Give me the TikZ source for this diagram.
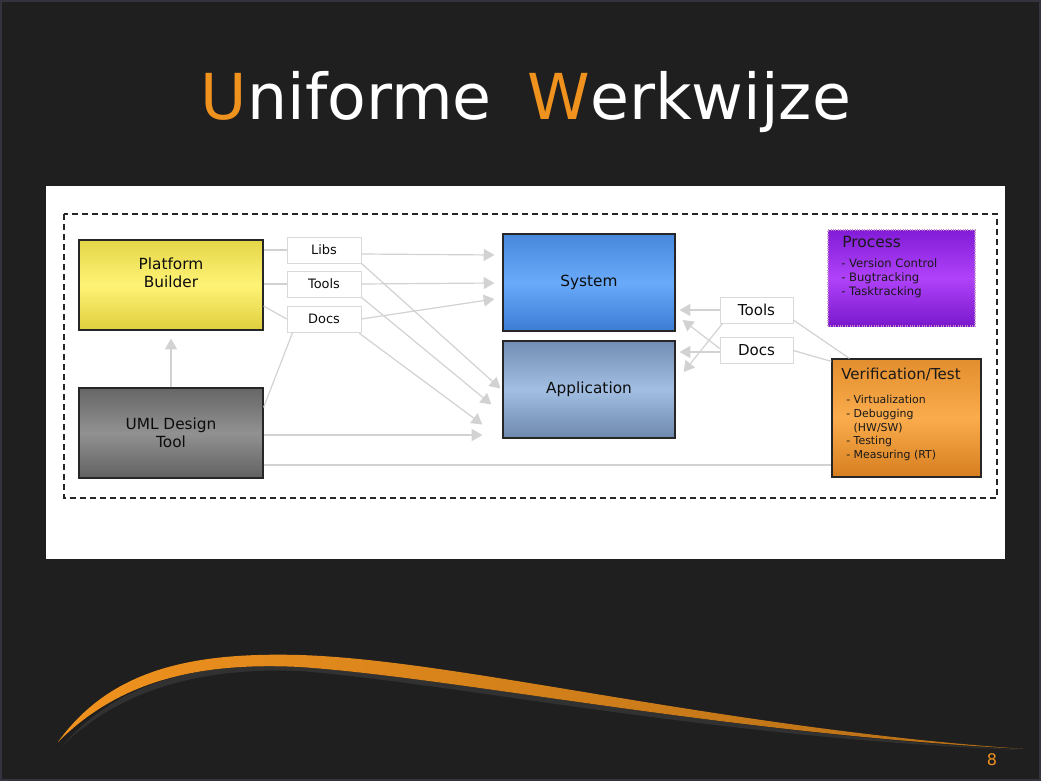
\documentclass[tikz,border=0pt]{standalone}
\usepackage{fontspec}
\setmainfont{DejaVu Sans}
\usetikzlibrary{arrows.meta,calc,shadows}

\definecolor{slidebg}{HTML}{1F1F1F}
\definecolor{slideedge}{HTML}{34343F}
\definecolor{accent}{HTML}{F0921E}
\definecolor{linkgray}{HTML}{D2D2D2}

\tikzset{
  blk/.style={draw=black!85, line width=0.9pt, minimum width=138pt, minimum height=67.5pt,
    inner sep=0pt, align=center, text=black!95, font=\fontsize{11.5}{13.5}\selectfont},
  midblk/.style={blk, minimum width=129pt, minimum height=72.75pt},
  tagbox/.style={draw=black!15, fill=white, line width=0.5pt, minimum width=55.5pt,
    minimum height=19.5pt, inner sep=0pt, text=black!95,
    drop shadow={shadow xshift=0.7pt, shadow yshift=-0.7pt, fill=black, opacity=0.2}},
  link/.style={draw=linkgray, line width=0.9pt},
  arr/.style={link, -{Triangle[length=8pt,width=9pt]}},
}

\begin{document}
\begin{tikzpicture}[x=0.75pt,y=-0.75pt]
  % slide background
  \fill[slidebg] (0,0) rectangle (1041,781);
  \draw[slideedge, line width=1.2pt] (0.8,0.8) rectangle (1040.2,780.2);
  \useasboundingbox (0,0) rectangle (1041,781);

  % title
  \node[anchor=base, text=white, font=\fontsize{47.5}{56}\selectfont, inner sep=0pt] (title) at (526,120)
    {\textcolor{accent}{U}niforme\hspace{0.25em} \textcolor{accent}{W}erkwijze};

  % white panel and dashed frame
  \fill[white] (46,186) rectangle (1005,559);
  \draw[black!85, line width=1.1pt, dash pattern=on 4.5pt off 3pt] (64,214) rectangle (997,498);

  % left blocks
  \node[blk, top color={rgb,255:red,228;green,214;blue,72}, bottom color={rgb,255:red,222;green,206;blue,62},
        middle color={rgb,255:red,255;green,243;blue,118}] (pb) at (171,285) {};
  \node[align=center, text=black!95, font=\fontsize{11.5}{13.5}\selectfont, inner sep=0pt]
    (pbt) at (171,273) {Platform\\Builder};
  \node[blk, top color=black!60, bottom color=black!62, middle color=black!43] (uml) at (171,433)
    {UML Design\\Tool};

  % tags beside the platform builder
  \node[tagbox, font=\fontsize{9.7}{11}\selectfont] (libs) at (324,250) {Libs};
  \node[tagbox, font=\fontsize{9.7}{11}\selectfont] (toolsl) at (324,284) {Tools};
  \node[tagbox, font=\fontsize{9.7}{11}\selectfont] (docsl) at (324,319) {Docs};

  % target blocks
  \node[midblk, top color={rgb,255:red,72;green,136;blue,220}, bottom color={rgb,255:red,60;green,124;blue,212},
        middle color={rgb,255:red,106;green,170;blue,250}] (sys) at (589,282.5) {System};
  \node[midblk, top color={rgb,255:red,115;green,142;blue,180}, bottom color={rgb,255:red,110;green,136;blue,174},
        middle color={rgb,255:red,162;green,190;blue,226}] (app) at (589,389.5) {Application};

  % tags beside the verification block
  \node[tagbox, minimum width=54.75pt, font=\fontsize{11.3}{13}\selectfont] (toolsr) at (756.5,310) {Tools};
  \node[tagbox, minimum width=54.75pt, font=\fontsize{11.3}{13}\selectfont] (docsr) at (756.5,350.5) {Docs};

  % process block
  \node[draw=white!55!violet, densely dotted, line width=0.8pt, minimum width=110.25pt, minimum height=72pt,
        top color={rgb,255:red,130;green,28;blue,214}, bottom color={rgb,255:red,122;green,24;blue,204},
        middle color={rgb,255:red,176;green,66;blue,250}, inner sep=0pt] (proc) at (901.5,278) {};
  \node[anchor=base west, inner sep=0pt, text=black!90, font=\fontsize{11.6}{13}\selectfont] (proct) at (842,247) {Process};
  \node[anchor=north west, inner sep=0pt, align=left, text=black!90, font=\fontsize{8.7}{10.5}\selectfont]
    (procl) at (841,258.5) {- Version Control\\- Bugtracking\\- Tasktracking};

  % verification block
  \node[draw=black!85, line width=0.9pt, minimum width=111.75pt, minimum height=88.5pt, inner sep=0pt,
        top color={rgb,255:red,226;green,142;blue,46}, bottom color={rgb,255:red,214;green,126;blue,32},
        middle color={rgb,255:red,250;green,172;blue,76}] (ver) at (906.5,418) {};
  \node[anchor=base west, inner sep=0pt, text=black!90, font=\fontsize{11.3}{13}\selectfont] (vert) at (841,379) {Verification/Test};
  \node[anchor=north west, inner sep=0pt, align=left, text=black!90, font=\fontsize{8.2}{10.3}\selectfont]
    (verl) at (846,395) {- Virtualization\\- Debugging\\\phantom{- }(HW/SW)\\- Testing\\- Measuring (RT)};

  % platform builder to its tags
  \draw[link] (pb.east |- libs.west) -- (libs.west);
  \draw[link] (pb.east |- toolsl.west) -- (toolsl.west);
  \draw[link] ($(pb.east)+(0,21)$) -- (docsl.west);

  % tags to system
  \draw[arr] ($(libs.east)+(0,4)$) -- ($(sys.west)+(-8,-27.5)$);
  \draw[arr] (toolsl.east) -- ($(sys.west)+(-8,0.5)$);
  \draw[arr] (docsl.east) -- ($(sys.west)+(-8,16.5)$);

  % tags to application
  \draw[arr] (libs.south east) -- ($(app.west)+(-2,-1)$);
  \draw[arr] (toolsl.south east) -- ($(app.west)+(-11,15)$);
  \draw[arr] ($(docsl.south east)+(-2,1)$) -- ($(app.west)+(-20,35)$);

  % uml design tool links
  \draw[arr] (uml.north) -- ($(pb.south)+(0,8)$);
  \draw[link] ($(uml.north east)+(0,20)$) -- ($(docsl.south west)+(6,0)$);
  \draw[arr] ($(uml.east)+(0,2)$) -- ($(app.west)+(-20,45.5)$);
  \draw[link] ($(uml.east)+(0,32)$) -- ($(ver.west)+(0,47)$);

  % right-hand tags to system and application
  \draw[arr] (toolsr.west) -- ($(sys.east)+(4,27.5)$);
  \draw[arr] ($(docsr.west)+(0,-2)$) -- ($(sys.east)+(7,37.5)$);
  \draw[arr] ($(docsr.west)+(0,1.5)$) -- ($(app.east)+(4,-37.5)$);
  \draw[arr] ($(toolsr.south west)+(3,0)$) -- ($(app.east)+(8,-17.5)$);

  % right-hand tags to verification
  \draw[link] ($(toolsr.east)+(0,10)$) -- ($(ver.north west)+(18,0)$);
  \draw[link] (docsr.east) -- ($(ver.north west)+(0,3)$);

  % swoosh at the bottom of the slide
  \fill[black!70!white!40!slidebg]
    (300,667) .. controls (460,678) and (720,733) .. (1025,750)
    .. controls (720,739) and (460,684) .. (300,671)
    .. controls (200,667) and (120,690) .. (62,746)
    .. controls (120,680) and (200,662) .. (300,667) -- cycle;
  \shade[left color=accent, right color=accent!75!black]
    (58,742) .. controls (110,670) and (190,652) .. (300,655)
    .. controls (460,660) and (720,728) .. (1025,749)
    .. controls (720,733) and (460,678) .. (300,667)
    .. controls (200,662) and (120,680) .. (58,742) -- cycle;

  % page number
  \node[text=accent, font=\fontsize{12}{14}\selectfont, inner sep=0pt] (pagenum) at (992,760) {8};
\end{tikzpicture}
\end{document}
